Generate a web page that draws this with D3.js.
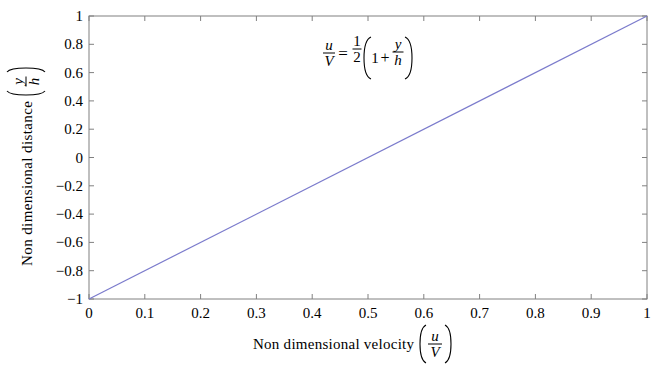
<!DOCTYPE html>
<html><head><meta charset="utf-8">
<script src="https://cdn.jsdelivr.net/npm/d3@7"></script>
<style>body{margin:0;background:#fff}svg{display:block}</style>
</head><body><svg id="c" width="659" height="369"></svg>
<script>
const xVals = [0, 1];
const yVals = [-1, 1];
const xTicks = [0,0.1,0.2,0.3,0.4,0.5,0.6,0.7,0.8,0.9,1];
const yTicks = [-1,-0.8,-0.6,-0.4,-0.2,0,0.2,0.4,0.6,0.8,1];
const xLabel = "Non dimensional velocity";
const yLabel = "Non dimensional distance";

const FONT = "Liberation Serif";
const svg = d3.select("#c");
const L=89, T=16, R=647, B=299;
const x = d3.scaleLinear().domain([0,1]).range([L,R]);
const y = d3.scaleLinear().domain([-1,1]).range([B,T]);
const fmt = v => (v<0 ? "\u2212" : "") + d3.format("")(Math.abs(+v.toFixed(1)));
const ax = "#808080";

function txt(p, xx, yy, s, size, anchor, italic){
  const t = p.append("text").attr("x",xx).attr("y",yy).attr("font-family",FONT).attr("font-size",size)
    .attr("text-anchor",anchor||"middle").attr("fill","#000").text(s);
  if(italic) t.attr("font-style","italic");
  return t;
}

svg.append("rect").attr("x",L).attr("y",T).attr("width",R-L).attr("height",B-T).attr("fill","#fff").attr("stroke",ax).attr("stroke-width",1);

const g = svg.append("g");
xTicks.forEach(v=>{
  g.append("line").attr("x1",x(v)).attr("x2",x(v)).attr("y1",B).attr("y2",B-5).attr("stroke",ax);
  g.append("line").attr("x1",x(v)).attr("x2",x(v)).attr("y1",T).attr("y2",T+5).attr("stroke",ax);
  txt(g, x(v), B+19, fmt(v), 15, "middle");
});
yTicks.forEach(v=>{
  g.append("line").attr("x1",L).attr("x2",L+5).attr("y1",y(v)).attr("y2",y(v)).attr("stroke",ax);
  g.append("line").attr("x1",R).attr("x2",R-5).attr("y1",y(v)).attr("y2",y(v)).attr("stroke",ax);
  txt(g, L-6, y(v)+5, fmt(v), 15, "end");
});

const data = xVals.map((v,i)=>[v,yVals[i]]);
svg.append("path").datum(data).attr("fill","none").attr("stroke","#7b7bcc").attr("stroke-width",1.2)
  .attr("d", d3.line().x(d=>x(d[0])).y(d=>y(d[1])));

function frac(parent, cx, cy, num, den, w, size, italic){
  txt(parent, cx, cy-3, num, size, "middle", italic);
  parent.append("line").attr("x1",cx-w/2).attr("x2",cx+w/2).attr("y1",cy).attr("y2",cy).attr("stroke","#000").attr("stroke-width",1);
  txt(parent, cx, cy+size-2, den, size, "middle", italic);
}
function paren(parent, x0, cy, h, left, w){
  const s = left?1:-1; w = w||6;
  parent.append("path").attr("fill","none").attr("stroke","#000").attr("stroke-width",1.1)
    .attr("d",`M${x0+s*w},${cy-h/2} Q${x0},${cy-h/2+3} ${x0},${cy} Q${x0},${cy+h/2-3} ${x0+s*w},${cy+h/2}`);
}

// equation
const eq = svg.append("g");
frac(eq, 329, 53, "u", "V", 12, 15, true);
txt(eq, 343, 59, "=", 17, "middle");
frac(eq, 357, 49, "1", "2", 9, 15, false);
paren(eq, 364, 58, 42, true, 7);
txt(eq, 375, 63, "1", 15, "middle");
txt(eq, 385, 63, "+", 16, "middle");
frac(eq, 398, 52, "y", "h", 11, 15, true);
paren(eq, 412, 58, 42, false, 7);

// x label
const xl = svg.append("g");
txt(xl, 253, 349, xLabel, 15, "start").attr("textLength",161).attr("lengthAdjust","spacing");
paren(xl, 420, 344, 38, true);
frac(xl, 435, 344, "u", "V", 14, 15, true);
paren(xl, 451, 344, 38, false);

// y label (rotated)
const yl = svg.append("g").attr("transform","rotate(-90)");
txt(yl, -266, 32, yLabel, 15, "start").attr("textLength",165).attr("lengthAdjust","spacing");
paren(yl, -95, 26, 38, true, 4);
frac(yl, -81.5, 26, "y", "h", 10, 15, true);
paren(yl, -68, 26, 38, false, 4);
</script></body></html>
